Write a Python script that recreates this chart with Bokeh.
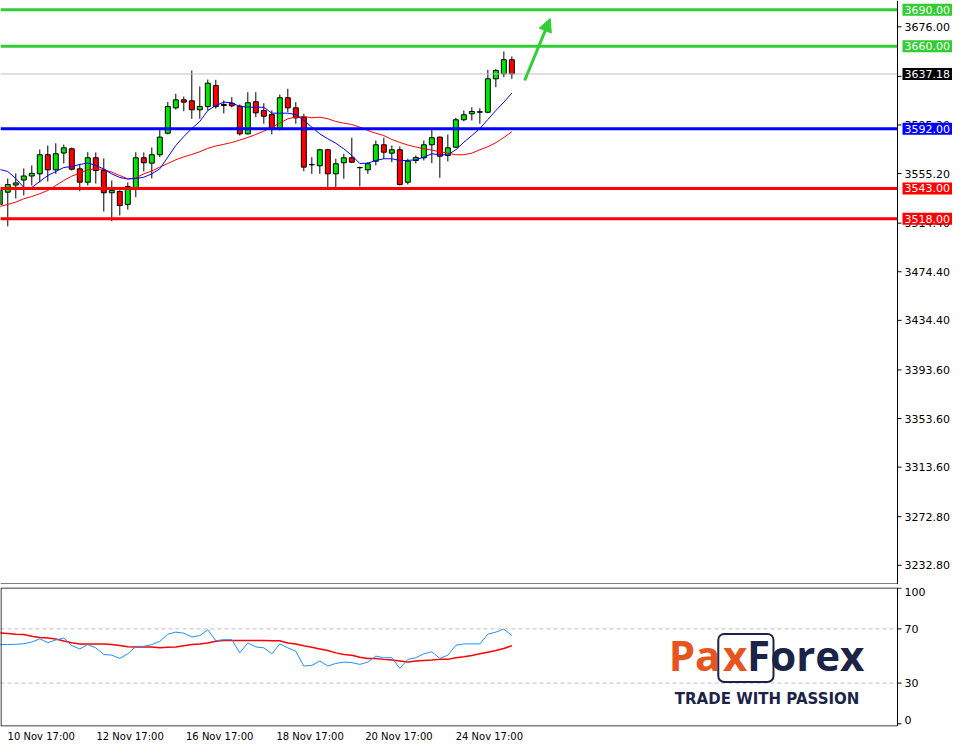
from bokeh.plotting import figure
from bokeh.layouts import column
from bokeh.models import (ColumnDataSource, Range1d, FixedTicker, Span, Label, Arrow,
                          NormalHead, BoxAnnotation)
from bokeh.core.properties import value
from bokeh.embed import file_html
from bokeh.resources import INLINE

# ---------------- data ----------------
opens = [3529.8, 3539.9, 3545.8, 3549.9, 3553.2, 3555.0, 3570.7, 3558.3, 3572.1, 3575.6,
         3559.1, 3548.1, 3568.2, 3557.7, 3539.4, 3540.5, 3529.8, 3543.2, 3568.2, 3563.8,
         3570.7, 3588.4, 3609.3, 3615.9, 3615.1, 3607.7, 3610.4, 3627.7, 3612.1, 3613.1,
         3610.7, 3587.9, 3614.3, 3607.1, 3603.8, 3592.1, 3617.6, 3609.3, 3601.6, 3562.4,
         3561.6, 3574.8, 3555.0, 3564.1, 3568.2, 3560.0, 3558.3, 3565.4, 3578.9, 3572.0,
         3574.8, 3548.1, 3566.0, 3568.2, 3578.9, 3585.2, 3570.1, 3576.9, 3599.5, 3604.4,
         3605.7, 3605.7, 3633.2, 3637.3, 3648.9]
closes = [3541.3, 3546.2, 3547.5, 3553.2, 3555.4, 3570.7, 3558.3, 3571.5, 3576.4, 3558.8,
          3548.1, 3568.2, 3557.7, 3539.4, 3541.3, 3528.9, 3544.6, 3568.2, 3564.1, 3570.7,
          3585.2, 3610.4, 3615.9, 3614.0, 3607.7, 3610.4, 3629.6, 3610.4, 3611.2, 3611.0,
          3587.9, 3613.5, 3605.2, 3602.4, 3592.1, 3617.6, 3609.3, 3601.1, 3560.5, 3562.7,
          3574.8, 3555.0, 3563.3, 3568.2, 3564.6, 3560.2, 3563.3, 3578.9, 3572.8, 3574.8,
          3546.2, 3565.4, 3568.4, 3578.9, 3584.7, 3569.5, 3576.4, 3599.5, 3603.6, 3606.3,
          3606.1, 3633.2, 3640.0, 3648.9, 3637.18]
highs = [3544.6, 3551.2, 3555.3, 3559.4, 3561.9, 3575.0, 3578.3, 3580.2, 3579.1, 3576.7,
         3563.3, 3572.8, 3572.6, 3567.6, 3549.5, 3541.3, 3547.9, 3572.8, 3572.6, 3576.7,
         3591.5, 3614.0, 3620.9, 3618.6, 3640.0, 3626.9, 3632.6, 3632.4, 3615.4, 3618.1,
         3612.1, 3622.2, 3622.2, 3613.1, 3607.1, 3620.3, 3625.0, 3614.0, 3604.4, 3568.7,
         3575.6, 3575.6, 3567.4, 3571.5, 3584.7, 3561.0, 3564.6, 3582.4, 3584.7, 3578.3,
         3577.5, 3567.4, 3570.1, 3582.4, 3591.2, 3585.7, 3587.4, 3601.1, 3607.1, 3609.8,
         3609.0, 3640.6, 3641.4, 3655.7, 3651.6]
lows = [3526.5, 3511.7, 3534.7, 3537.2, 3545.4, 3547.9, 3548.7, 3555.0, 3563.5, 3557.7,
        3540.7, 3545.4, 3547.0, 3524.0, 3516.0, 3520.7, 3525.6, 3535.8, 3556.9, 3551.2,
        3568.7, 3587.4, 3607.9, 3606.5, 3600.3, 3600.3, 3607.1, 3608.5, 3604.7, 3609.6,
        3586.5, 3587.4, 3601.6, 3596.2, 3587.4, 3590.7, 3605.7, 3596.2, 3557.2, 3555.0,
        3555.0, 3544.0, 3544.0, 3550.9, 3563.8, 3544.6, 3555.0, 3561.9, 3567.4, 3564.6,
        3545.4, 3546.2, 3563.5, 3566.0, 3563.8, 3551.7, 3565.2, 3576.4, 3598.3, 3598.9,
        3596.2, 3604.9, 3626.3, 3634.5, 3633.2]
ma_fast = [3558.6, 3556.9, 3551.2, 3543.8, 3543.8, 3548.7, 3553.6, 3556.9, 3560.2, 3561.0,
           3562.7, 3563.9, 3561.9, 3559.0, 3554.9, 3552.0, 3550.7, 3551.2, 3552.2, 3555.0,
           3559.1, 3568.7, 3578.3, 3585.7, 3592.3, 3598.1, 3607.1, 3611.2, 3614.0, 3613.5,
           3610.4, 3610.0, 3609.8, 3609.8, 3604.9, 3604.9, 3604.9, 3603.8, 3598.9, 3593.4,
           3587.9, 3583.8, 3580.2, 3575.6, 3570.1, 3563.5, 3563.8, 3566.0, 3567.4, 3567.4,
           3566.0, 3566.0, 3566.6, 3568.7, 3571.5, 3570.7, 3570.7, 3574.8, 3581.0, 3586.5,
           3592.3, 3599.7, 3607.1, 3614.0, 3621.4]
ma_slow = [3528.1, 3529.8, 3531.7, 3534.5, 3536.3, 3538.6, 3541.3, 3545.4, 3549.5, 3553.1,
           3555.5, 3558.3, 3559.1, 3558.6, 3556.3, 3553.6, 3550.9, 3551.6, 3555.0, 3557.3,
           3560.6, 3563.5, 3566.6, 3569.0, 3570.9, 3573.2, 3576.0, 3577.9, 3579.3, 3580.8,
           3582.8, 3584.9, 3587.4, 3590.1, 3593.4, 3596.7, 3600.3, 3601.6, 3602.2, 3601.1,
           3601.6, 3600.3, 3598.1, 3596.7, 3595.6, 3593.4, 3590.7, 3588.4, 3586.5, 3583.3,
           3580.8, 3578.7, 3577.1, 3575.6, 3574.5, 3573.2, 3572.0, 3570.7, 3570.7, 3572.0,
           3574.8, 3577.3, 3580.6, 3584.9, 3589.7]
rsi = [58.4, 58.4, 58.6, 59.0, 60.3, 62.7, 59.8, 61.8, 63.2, 57.6,
       55.2, 58.4, 56.0, 51.1, 50.6, 48.2, 51.6, 57.1, 57.1, 58.4,
       60.8, 66.1, 67.6, 66.8, 64.0, 65.1, 69.3, 61.3, 62.0, 62.0,
       52.3, 59.6, 56.7, 56.0, 51.6, 58.9, 56.0, 53.5, 42.6, 43.1,
       46.3, 42.6, 44.5, 45.5, 45.1, 43.8, 45.5, 49.9, 48.7, 48.7,
       40.9, 47.5, 48.7, 51.6, 53.1, 48.2, 50.6, 57.9, 58.9, 58.9,
       58.9, 66.1, 67.6, 69.8, 65.1]
rsi_ma = [66.9, 66.6, 66.1, 65.8, 64.6, 63.7, 63.2, 62.5, 61.0, 59.8,
          58.9, 58.9, 58.9, 58.9, 58.5, 57.7, 56.8, 56.7, 56.7, 56.7,
          56.1, 56.4, 56.7, 57.6, 58.4, 58.9, 59.6, 60.8, 61.5, 61.5,
          61.5, 61.5, 61.5, 61.5, 61.3, 61.3, 59.6, 58.9, 57.6, 56.4,
          55.2, 54.0, 52.3, 51.1, 50.6, 49.1, 48.2, 48.2, 47.5, 47.0,
          46.3, 45.5, 46.3, 46.7, 47.0, 47.5, 47.5, 48.7, 49.4, 50.4,
          51.6, 52.8, 54.0, 55.5, 57.6]

date_ticks = [1, 12.1, 23.3, 34.6, 45.7, 57]
date_labels = ["10 Nov 17:00", "12 Nov 17:00", "16 Nov 17:00",
               "18 Nov 17:00", "20 Nov 17:00", "24 Nov 17:00"]
price_ticks = [3232.8, 3272.8, 3313.6, 3353.6, 3393.6, 3434.4, 3474.4,
               3514.4, 3555.2, 3595.2, 3635.2, 3676.0]
levels = [3690.0, 3660.0, 3592.0, 3543.0, 3518.0]
level_colors = ["#32cd32", "#32cd32", "#0000ff", "#ff0000", "#ff0000"]
bid_price = 3637.18
osc_levels = [30, 70]
osc_top_tick, osc_mid_ticks, osc_bottom_tick = 100, [70, 30], 0
arrow_from = (65.6, 3631.8)
arrow_to = (68.8, 3682.8)

# ---------------- layout / styling constants ----------------
FONT = "DejaVu Sans"
GREEN = "#32cd32"
BULL = "#00e600"
BEAR = "#ff0000"
ORANGE = "#e8541e"
NAVY = "#1b2447"
W, RIGHT = 962, 65
FRAME_W = W - RIGHT                        # width of the chart area left of the scales
MAIN_H, OSC_FRAME_H = 584, 141
X_START, X_END = 0.09, 112.2
Y_BOT, Y_TOP = 3217.0, 3697.65
O_BOT, O_TOP = -2.0, 100.5
PX = (X_END - X_START) / FRAME_W          # bar units per pixel
PY = (Y_TOP - Y_BOT) / MAIN_H             # price units per pixel
PO = (O_TOP - O_BOT) / OSC_FRAME_H        # oscillator units per pixel
LABEL_SHIFT = 33.5 * PX                   # half a date label: text starts at its tick

idx = list(range(len(opens)))
src = ColumnDataSource(dict(
    x=idx, o=opens, c=closes, h=highs, l=lows,
    top=[max(a, b) for a, b in zip(opens, closes)],
    bot=[min(a, b) for a, b in zip(opens, closes)],
    col=[BULL if c >= o else BEAR for o, c in zip(opens, closes)],
    maf=ma_fast, mas=ma_slow, rsi=rsi, rsima=rsi_ma,
))

xr = Range1d(X_START, X_START + PX * W)   # both panels span the full width

# ---------------- main price panel (price scale drawn inside the canvas) ----------------
p = figure(width=W, height=MAIN_H, x_range=xr, y_range=Range1d(Y_BOT, Y_TOP),
           output_backend="svg", toolbar_location=None,
           x_axis_location=None, y_axis_location=None, min_border=0)
p.grid.visible = False
p.outline_line_color = None
p.background_fill_color = "white"
p.border_fill_color = "white"

p.segment(x0="x", y0="l", x1="x", y1="h", source=src, line_color="black", line_width=1)
p.vbar(x="x", width=0.62, top="top", bottom="bot", source=src,
       fill_color="col", line_color="black", line_width=1)
p.line("x", "mas", source=src, line_color="#ff0000", line_width=1)
p.line("x", "maf", source=src, line_color="#0000ff", line_width=1)

p.segment(x0=[X_START], x1=[X_END], y0=[bid_price], y1=[bid_price],
          line_color="#c0c0c0", line_width=1)
p.segment(x0=[X_START] * len(levels), x1=[X_END] * len(levels), y0=levels, y1=levels,
          line_color=level_colors, line_width=3)

p.add_layout(Arrow(end=NormalHead(size=13, fill_color=GREEN, line_color=GREEN),
                   x_start=arrow_from[0], y_start=arrow_from[1],
                   x_end=arrow_to[0], y_end=arrow_to[1],
                   line_color=GREEN, line_width=3))

# price scale
p.add_layout(Span(location=X_END, dimension="height", line_color="black", line_width=1))
p.segment(x0=[X_START], x1=[X_END], y0=[Y_BOT + 0.5 * PY], y1=[Y_BOT + 0.5 * PY],
          line_color="black", line_width=1)
n = len(price_ticks)
p.segment(x0=[X_END] * n, x1=[X_END + 4 * PX] * n, y0=price_ticks, y1=price_ticks,
          line_color="black", line_width=1)
p.text(x=[X_END + 7 * PX] * n, y=price_ticks, text=[f"{t:.2f}" for t in price_ticks],
       text_font=value(FONT), text_font_size="11px", text_color="black",
       text_align="left", text_baseline="middle")

box_vals = levels + [bid_price]
box_src = ColumnDataSource(dict(
    x=[X_END + 5 * PX] * len(box_vals), y=box_vals,
    t=[f"{v:.2f}" for v in box_vals], c=level_colors + ["black"]))
p.text(x="x", y="y", text="t", source=box_src, text_font=value(FONT),
       text_font_size="11px", text_color="white", text_align="left",
       text_baseline="middle", background_fill_color="c", background_fill_alpha=1.0,
       padding=2)

# ---------------- oscillator panel ----------------
q = figure(width=W, height=160, x_range=xr, y_range=Range1d(O_BOT, O_TOP),
           output_backend="svg", toolbar_location=None, y_axis_location=None,
           min_border_left=0, min_border_right=0, min_border_top=3, min_border_bottom=0)
q.grid.visible = False
q.outline_line_color = None

qx = q.xaxis[0]
qx.ticker = FixedTicker(ticks=[t + LABEL_SHIFT for t in date_ticks])
qx.major_label_overrides = {t + LABEL_SHIFT: s for t, s in zip(date_ticks, date_labels)}
qx.major_tick_out = 0
qx.major_tick_in = 0
qx.minor_tick_out = 0
qx.minor_tick_in = 0
qx.axis_line_color = None
qx.major_tick_line_color = None
qx.major_label_text_font = FONT
qx.major_label_text_font_size = "10px"
qx.major_label_text_color = "black"
qx.major_label_standoff = 4

q.segment(x0=[X_START] * 2, x1=[X_END] * 2, y0=osc_levels, y1=osc_levels,
          line_color="#c0c0c0", line_width=1, line_dash="4 3")
q.line("x", "rsima", source=src, line_color="#ff0000", line_width=1.5)
q.line("x", "rsi", source=src, line_color="#1e90ff", line_width=1)

# panel border and its scale
q.quad(left=[X_START + 0.5 * PX], right=[X_END], bottom=[O_BOT + 0.5 * PO],
       top=[O_TOP - 0.5 * PO], fill_alpha=0, line_color="black", line_width=1)
all_osc = [osc_top_tick] + osc_mid_ticks + [osc_bottom_tick]
q.segment(x0=[X_END] * 4, x1=[X_END + 4 * PX] * 4, y0=all_osc, y1=all_osc,
          line_color="black", line_width=1)
common = dict(text_font=value(FONT), text_font_size="11px", text_color="black",
              text_align="left")
q.text(x=[X_END + 7 * PX], y=[osc_top_tick], text=[str(osc_top_tick)],
       text_baseline="top", **common)
q.text(x=[X_END + 7 * PX] * 2, y=osc_mid_ticks, text=[str(v) for v in osc_mid_ticks],
       text_baseline="middle", **common)
q.text(x=[X_END + 7 * PX], y=[osc_bottom_tick], text=[str(osc_bottom_tick)],
       text_baseline="bottom", **common)

# logo
q.add_layout(BoxAnnotation(left=89.8, right=96.7, bottom=30.8, top=66.3,
                           fill_alpha=0, line_color=NAVY, line_width=2, line_alpha=1,
                           border_radius=6, level="overlay"))
q.add_layout(Label(x=83.6, y=51.0, text="Pa", text_color=ORANGE, text_font="Open Sans",
                   text_font_style="bold", text_font_size="42px", text_baseline="alphabetic"))
q.add_layout(Label(x=90.4, y=51.0, text="x", text_color=ORANGE, text_font="Open Sans",
                   text_font_style="bold", text_font_size="42px", text_baseline="alphabetic"))
q.add_layout(Label(x=93.4, y=51.0, text="Forex", text_color=NAVY, text_font="Open Sans",
                   text_font_style="bold", text_font_size="42px", text_baseline="alphabetic"))
q.add_layout(Label(x=95.9, y=18.0, text="TRADE WITH PASSION", text_color=NAVY,
                   text_font=FONT, text_font_style="bold", text_font_size="15px",
                   text_align="center", text_baseline="alphabetic"))

layout = column(p, q, spacing=0)
open("out.html", "w").write(file_html(layout, INLINE))
